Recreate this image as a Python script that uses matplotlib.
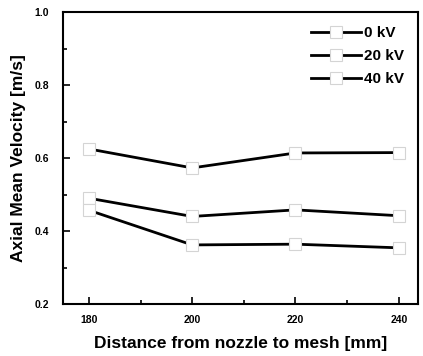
import matplotlib.pyplot as plt
from matplotlib.ticker import MultipleLocator

# Distance from nozzle to mesh [mm]
distance = [180, 200, 220, 240]

# Axial mean velocity [m/s]
v_0kv = [0.625, 0.573, 0.614, 0.615]
v_20kv = [0.490, 0.440, 0.458, 0.442]
v_40kv = [0.457, 0.362, 0.364, 0.354]

series_labels = ['0 kV', '20 kV', '40 kV']

plt.rcParams['font.family'] = ['Liberation Sans', 'DejaVu Sans']
plt.rcParams['font.weight'] = 'bold'

fig = plt.figure(figsize=(4.23, 3.56), dpi=100)
ax = fig.add_axes([0.149, 0.146, 0.839, 0.820])

for vals, lab in zip([v_0kv, v_20kv, v_40kv], series_labels):
    ax.plot(distance, vals, color='black', lw=2.0, marker='s', ms=9,
            mfc='white', mec='#d4d4d4', mew=0.8, label=lab)

ax.set_xlim(175, 243.7)
ax.set_ylim(0.2, 1.0)
ax.set_xticks(distance)
ax.xaxis.set_minor_locator(MultipleLocator(10))
ax.yaxis.set_major_locator(MultipleLocator(0.2))
ax.yaxis.set_minor_locator(MultipleLocator(0.1))
ax.tick_params(which='both', direction='in', top=False, right=False, labelsize=7.5, width=1.2)
ax.tick_params(which='major', length=5)
ax.tick_params(which='minor', length=3)
ax.tick_params(axis='x', pad=8)
ax.tick_params(axis='y', pad=10)
for s in ax.spines.values():
    s.set_linewidth(1.5)

ax.set_xlabel('Distance from nozzle to mesh [mm]', fontsize=12.5, fontweight='bold', labelpad=8)
ax.set_ylabel('Axial Mean Velocity [m/s]', fontsize=12.5, fontweight='bold', labelpad=6)

ax.legend(loc='upper right', frameon=False, handlelength=3.3,
          handletextpad=0.2, labelspacing=0.6, borderaxespad=0.5,
          prop={'weight': 'bold', 'size': 11})

fig.savefig('out.png', dpi=100)
